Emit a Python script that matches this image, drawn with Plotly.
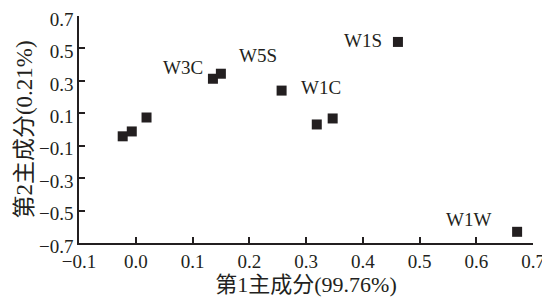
import plotly.graph_objects as go

pc1 = [-0.023, -0.007, 0.019, 0.136, 0.150, 0.257, 0.319, 0.347, 0.462, 0.672]
pc2 = [-0.042, -0.012, 0.074, 0.313, 0.344, 0.240, 0.031, 0.068, 0.540, -0.631]
labels = ["", "", "", "W3C", "W5S", "W1C", "", "", "W1S", "W1W"]
label_shift = {"W3C": (-30, 11), "W5S": (37, 18), "W1C": (39, 3), "W1S": (-35, 1), "W1W": (-49, 12)}

x_ticks = [-0.1, 0.0, 0.1, 0.2, 0.3, 0.4, 0.5, 0.6, 0.7]
y_ticks = [-0.7, -0.5, -0.3, -0.1, 0.1, 0.3, 0.5, 0.7]

font = "'Liberation Serif', 'Noto Sans CJK SC', serif"
ink = "#231f20"

fig = go.Figure()
fig.add_trace(go.Scatter(
    x=pc1, y=pc2, mode="markers",
    marker=dict(symbol="square", size=10, color=ink),
    showlegend=False, cliponaxis=False,
))
for xv, yv, lab in zip(pc1, pc2, labels):
    if lab:
        dx, dy = label_shift[lab]
        fig.add_annotation(x=xv, y=yv, text=lab, showarrow=False,
                           xshift=dx, yshift=dy,
                           font=dict(family=font, size=19, color=ink))

# page body has an 8px default margin, so the figure is sized to fit inside it
fig.update_layout(
    width=542, height=289,
    margin=dict(l=71, r=17, t=8, b=54),
    paper_bgcolor="white", plot_bgcolor="white",
    font=dict(family=font, size=19, color=ink),
)
fig.update_xaxes(
    range=[-0.1, 0.7], tickvals=x_ticks, ticktext=[f"{v:.1f}".replace("-", "−") for v in x_ticks],
    showgrid=False, zeroline=False, showline=True, linecolor=ink, linewidth=1.5,
    ticks="inside", ticklen=6, tickwidth=1.5, tickcolor=ink, automargin=False,
    ticklabeloverflow="allow",
    tickfont=dict(family=font, size=19, color=ink),
    title=dict(text="第1主成分(99.76%)", standoff=0, font=dict(family=font, size=22, color=ink)),
)
fig.update_yaxes(
    range=[-0.7, 0.7], tickvals=y_ticks, ticktext=[f"{v:.1f}".replace("-", "−") for v in y_ticks],
    showgrid=False, zeroline=False, showline=True, linecolor=ink, linewidth=1.5,
    ticks="inside", ticklen=6, tickwidth=1.5, tickcolor=ink, automargin=False,
    ticklabeloverflow="allow", ticklabelshift=3,
    tickfont=dict(family=font, size=19, color=ink),
    title=dict(text="第2主成分(0.21%)", standoff=0, font=dict(family=font, size=23, color=ink)),
)
fig.write_html("out.html")
